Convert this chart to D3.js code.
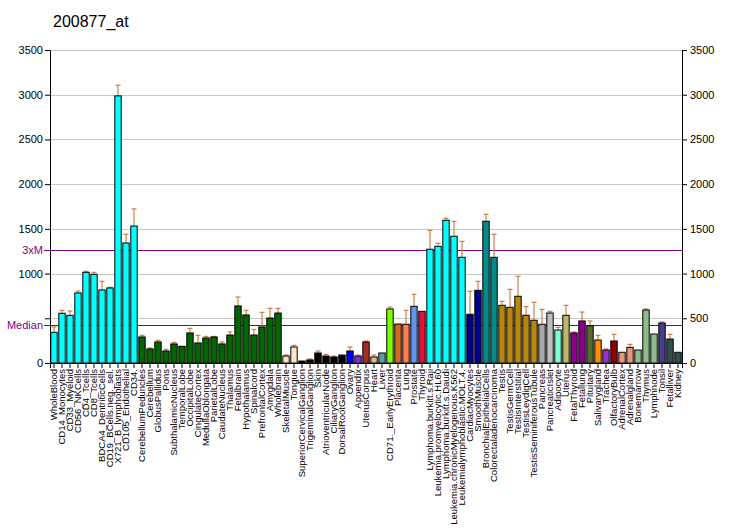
<!DOCTYPE html>
<html>
<head>
<meta charset="utf-8">
<script src="https://cdn.jsdelivr.net/npm/d3@7"></script>
<style>
  body { margin: 0; background: #fff; }
  text { font-family: "Liberation Sans", Arial, sans-serif; }
</style>
</head>
<body>
<svg id="chart"></svg>
<script>
const title = '200877_at';

const tissues = [
  'WholeBlood', 'CD14_Monocytes', 'CD33_Myeloid', 'CD56_NKCells', 'CD4_Tcells', 'CD8_Tcells',
  'BDCA4_DentriticCells', 'CD19_BCells.neg._sel.', 'X721_B_lymphoblasts', 'CD105_Endothelial', 'CD34.',
  'CerebellumPeduncles', 'Cerebellum', 'GlobusPallidus', 'Pons', 'SubthalamicNucleus', 'TemporalLobe',
  'OccipitalLobe', 'CingulateCortex', 'MedullaOblongata', 'ParietalLobe', 'CaudateNucleus', 'Thalamus',
  'Fetalbrain', 'Hypothalamus', 'Spinalcord', 'PrefrontalCortex', 'Amygdala', 'Wholebrain',
  'SkeletalMuscle', 'Tongue', 'SuperiorCervicalGanglion', 'TrigeminalGanglion', 'Skin',
  'AtrioventricularNode', 'CiliaryGanglion', 'DorsalRootGanglion', 'Ovary', 'Appendix', 'UterusCorpus',
  'Heart', 'Liver', 'CD71._EarlyErythroid', 'Placenta', 'Lung', 'Prostate', 'Thyroid',
  'Lymphoma.burkitt.s.Raji', 'Leukemia.promyelocytic.HL60', 'Lymphoma.burkitt.s.Daudi',
  'Leukemia.chronicMyelogenous.K562', 'Leukemialymphoblastic.MOLT.4.', 'CardiacMyocytes', 'SmoothMuscle',
  'BronchialEpithelialCells', 'Colorectaladenocarcinoma', 'Testis', 'TestisGermCell', 'TestisInterstitial',
  'TestisLeydigCell', 'TestisSeminiferousTubule', 'Pancreas', 'PancreaticIslet', 'Adipocyte', 'Uterus',
  'FetalThyroid', 'Fetallung', 'Pituitary', 'Salivarygland', 'Trachea', 'OlfactoryBulb', 'AdrenalCortex',
  'Adrenalgland', 'Bonemarrow', 'Thymus', 'Lymphnode', 'Tonsil', 'Fetalliver', 'Kidney'
];

const values = [
  343, 556, 533, 783, 1014, 992, 817, 839, 2987, 1342, 1532,
  291, 157, 235, 134, 213, 187, 336, 224, 280, 291, 213, 313,
  638, 537, 313, 403, 503, 559,
  78, 179, 22, 34, 112, 78, 67, 89, 134, 78, 235,
  67, 112, 604, 436, 433, 634, 578,
  1272, 1305, 1596, 1417, 1182, 545, 813,
  1585, 1182, 645, 623, 746, 534, 478, 433, 559, 369, 533,
  336, 470, 417, 257, 145, 246, 120, 175, 145, 593, 324, 447, 268, 120
];

// top of each error whisker
const errTops = [
  403, 589, 582, 805, 1026, 1014, 914, 847, 3106, 1440, 1723,
  310, 168, 254, 153, 231, 187, 388, 310, 298, 298, 235, 347,
  738, 589, 377, 567, 612, 612,
  89, 198, 22, 45, 134, 97, 78, 89, 179, 89, 246,
  89, 112, 626, 436, 589, 768, 578,
  1484, 1339, 1619, 1585, 1361, 802, 914,
  1663, 1440, 690, 824, 970, 630, 679, 600, 578, 399, 645,
  347, 570, 470, 310, 157, 321, 120, 209, 145, 604, 324, 459, 321, 120
];

const barColors = [].concat(
  Array(11).fill('#00FFFF'),
  Array(18).fill('#006400'),
  Array(2).fill('#FFE4C4'),
  Array(6).fill('#000000'),
  ['#0000FF', '#8A2BE2', '#A52A2A', '#DEB887', '#5F9EA0', '#7FFF00', '#D2691E', '#FF7F50', '#6495ED', '#DC143C'],
  Array(5).fill('#00FFFF'),
  Array(2).fill('#00008B'),
  Array(2).fill('#008B8B'),
  Array(5).fill('#B8860B'),
  ['#A9A9A9', '#BEBEBE', '#7FFFD4', '#BDB76B', '#8B008B', '#8B008B', '#556B2F', '#FF8C00', '#9932CC',
   '#8B0000', '#E9967A', '#E9967A', '#8FBC8F', '#8FBC8F', '#8FBC8F', '#483D8B', '#2F4F4F', '#2F4F4F']
);

const yTicks = [0, 500, 1000, 1500, 2000, 2500, 3000, 3500];
const median = 421;

const chartW = 732, chartH = 530;
const plotL = 50, plotR = 682, plotT = 50, plotB = 363;

const svg = d3.select('#chart')
  .attr('width', chartW)
  .attr('height', chartH);

const x = d3.scaleBand()
  .domain(tissues)
  .range([plotL, plotR])
  .paddingInner(0.2)
  .paddingOuter(0.1);

const y = d3.scaleLinear()
  .domain([0, 3500])
  .range([plotB, plotT]);

svg.append('text')
  .attr('x', 53)
  .attr('y', 27)
  .style('font-size', '16px')
  .attr('fill', '#000')
  .text(title);

// grid
svg.append('g')
  .selectAll('line')
  .data(yTicks.filter(t => t > 0))
  .enter()
  .append('line')
  .attr('x1', plotL)
  .attr('x2', plotR)
  .attr('y1', d => Math.round(y(d)) + 0.5)
  .attr('y2', d => Math.round(y(d)) + 0.5)
  .attr('stroke', '#C8C8C8')
  .attr('stroke-width', 1);

// median lines, drawn from the label to the right axis
const medLines = [{ v: median, label: 'Median' }, { v: median * 3, label: '3xM' }];
svg.append('g')
  .selectAll('line')
  .data(medLines)
  .enter()
  .append('line')
  .attr('x1', 44)
  .attr('x2', plotR)
  .attr('y1', d => Math.round(y(d.v)) + 0.5)
  .attr('y2', d => Math.round(y(d.v)) + 0.5)
  .attr('stroke', '#800080')
  .attr('stroke-width', 1);

svg.append('g')
  .selectAll('text')
  .data(medLines)
  .enter()
  .append('text')
  .attr('x', 43)
  .attr('y', d => y(d.v))
  .attr('dy', '0.35em')
  .attr('text-anchor', 'end')
  .style('font-size', '11px')
  .attr('fill', '#800080')
  .text(d => d.label);

// error bars
const errColor = '#C46A2E';
const errG = svg.append('g');
tissues.forEach((t, i) => {
  if (errTops[i] <= values[i]) return;
  const cx = x(t) + x.bandwidth() / 2;
  errG.append('line')
    .attr('x1', cx).attr('x2', cx)
    .attr('y1', y(values[i])).attr('y2', y(errTops[i]))
    .attr('stroke', errColor).attr('stroke-width', 1);
  errG.append('line')
    .attr('x1', cx - 2.5).attr('x2', cx + 2.5)
    .attr('y1', y(errTops[i])).attr('y2', y(errTops[i]))
    .attr('stroke', errColor).attr('stroke-width', 1);
});

// bars
svg.append('g')
  .selectAll('rect')
  .data(tissues)
  .enter()
  .append('rect')
  .attr('x', d => x(d))
  .attr('y', (d, i) => y(values[i]))
  .attr('width', x.bandwidth())
  .attr('height', (d, i) => plotB - y(values[i]))
  .attr('fill', (d, i) => barColors[i])
  .attr('stroke', '#000')
  .attr('stroke-width', 1);

// axes (the left 500 label is hidden under "Median")
const leftAxis = d3.axisLeft(y).tickValues(yTicks).tickSize(5).tickPadding(2)
  .tickFormat(d => d === 500 ? '' : d3.format('d')(d));
const rightAxis = d3.axisRight(y).tickValues(yTicks).tickSize(5).tickPadding(3)
  .tickFormat(d3.format('d'));
const bottomAxis = d3.axisBottom(x).tickSize(5).tickFormat('');

const gl = svg.append('g').attr('transform', `translate(${plotL},0)`).call(leftAxis);
const gr = svg.append('g').attr('transform', `translate(${plotR},0)`).call(rightAxis);
const gb = svg.append('g').attr('transform', `translate(0,${plotB})`).call(bottomAxis);

[gl, gr, gb].forEach(g => {
  g.select('.domain').attr('stroke', '#000');
  g.selectAll('.tick line').attr('stroke', '#000');
  g.selectAll('.tick text')
    .attr('fill', '#000')
    .style('font-family', '"Liberation Sans", Arial, sans-serif')
    .style('font-size', '11px');
});

// rotated tissue labels
svg.append('g')
  .selectAll('text')
  .data(tissues)
  .enter()
  .append('text')
  .attr('transform', d => `translate(${x(d) + x.bandwidth() / 2},369) rotate(-90)`)
  .attr('text-anchor', 'end')
  .attr('dy', '0.35em')
  .style('font-size', '9.5px')
  .attr('fill', '#000')
  .text(d => d);
</script>
</body>
</html>
